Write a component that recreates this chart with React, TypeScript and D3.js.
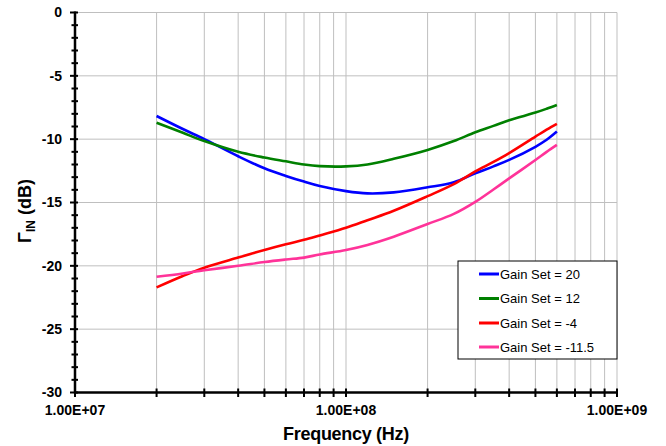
import React from "react";
import * as d3 from "d3";

const freqs = [2e7, 2.5e7, 3e7, 4e7, 5e7, 6e7, 7e7, 8e7, 1e8, 1.2e8, 1.5e8, 2e8, 2.5e8, 3e8, 3.5e8, 4e8, 5e8, 5.5e8, 6e8];
const gain20 = [-8.17, -9.2, -10.0, -11.35, -12.3, -12.9, -13.35, -13.7, -14.1, -14.28, -14.2, -13.8, -13.4, -12.7, -12.15, -11.64, -10.6, -10.05, -9.4];
const gain12 = [-8.7, -9.5, -10.15, -11.0, -11.45, -11.75, -12.0, -12.13, -12.15, -12.0, -11.55, -10.85, -10.15, -9.45, -8.95, -8.5, -7.9, -7.6, -7.3];
const gainM4 = [-21.7, -20.8, -20.15, -19.35, -18.75, -18.3, -17.95, -17.6, -17.0, -16.4, -15.65, -14.5, -13.55, -12.55, -11.8, -11.1, -9.8, -9.25, -8.79];
const gainM115 = [-20.86, -20.6, -20.35, -20.0, -19.7, -19.5, -19.35, -19.1, -18.75, -18.35, -17.7, -16.7, -15.9, -14.95, -13.97, -13.1, -11.64, -11.0, -10.45];

const seriesNames = ["Gain Set = 20", "Gain Set = 12", "Gain Set = -4", "Gain Set = -11.5"];
const seriesColors = ["#0000FF", "#008000", "#FF0000", "#FF3399"];
const seriesValues = [gain20, gain12, gainM4, gainM115];

const yTicks = [0, -5, -10, -15, -20, -25, -30];
const xMajor = [1e7, 1e8, 1e9];
const xTickLabels = ["1.00E+07", "1.00E+08", "1.00E+09"];

const FONT = "'Liberation Sans', Arial, Helvetica, sans-serif";

export default function App() {
  const left = 75, right = 617, top = 12.5, bottom = 392.5;
  const x = d3.scaleLog().domain([1e7, 1e9]).range([left, right]);
  const y = d3.scaleLinear().domain([-30, 0]).range([bottom, top]);

  const xMinor: number[] = [];
  for (const dec of [1e7, 1e8]) {
    for (let k = 1; k <= 10; k++) xMinor.push(dec * k);
  }
  const xAll = Array.from(new Set(xMinor));
  const yMinor = d3.range(-30, 1, 1);

  const line = d3
    .line<[number, number]>()
    .x((d) => x(d[0]))
    .y((d) => y(d[1]))
    .curve(d3.curveCatmullRom.alpha(0.5));

  const legX = 458, legY = 261, legW = 159, legH = 98;
  const rowY = [274, 298.5, 323, 347];

  return (
    <svg width={666} height={446} style={{ position: "absolute", left: 0, top: 0, background: "#fff" }} fontFamily={FONT}>
      {/* grid */}
      {yTicks.filter((t) => t !== -30).map((t) => (
        <line key={"hg" + t} x1={left} x2={right} y1={y(t)} y2={y(t)} stroke="#bfbfbf" strokeWidth={1} />
      ))}
      {xAll.filter((v) => v > 1e7).map((v) => (
        <line key={"vg" + v} x1={x(v)} x2={x(v)} y1={top} y2={bottom} stroke="#bfbfbf" strokeWidth={1} />
      ))}

      {/* series */}
      {seriesValues.map((vals, i) => (
        <path
          key={"s" + i}
          d={line(freqs.map((f, j) => [f, vals[j]] as [number, number])) || ""}
          fill="none"
          stroke={seriesColors[i]}
          strokeWidth={2.6}
        />
      ))}

      {/* y axis */}
      <line x1={left} x2={left} y1={top - 1} y2={bottom + 1} stroke="#000" strokeWidth={2.5} />
      {yMinor.map((t) => (
        <line key={"ym" + t} x1={left - (t % 5 === 0 ? 5 : 3.5)} x2={left + 3} y1={y(t)} y2={y(t)} stroke="#000" strokeWidth={2} />
      ))}
      {yTicks.map((t) => (
        <text key={"yl" + t} x={62} y={y(t)} dy="0.35em" textAnchor="end" fontSize={14} fontWeight="bold">
          {t}
        </text>
      ))}

      {/* x axis */}
      <line x1={left - 1} x2={right + 1} y1={bottom} y2={bottom} stroke="#000" strokeWidth={2.5} />
      {xAll.map((v) => (
        <line key={"xt" + v} x1={x(v)} x2={x(v)} y1={bottom - 4} y2={bottom + 4.5} stroke="#000" strokeWidth={2} />
      ))}
      {xMajor.map((v, i) => (
        <text key={"xl" + v} x={x(v)} y={415} textAnchor="middle" fontSize={14} fontWeight="bold">
          {xTickLabels[i]}
        </text>
      ))}

      {/* axis titles */}
      <text x={(left + right) / 2} y={440} textAnchor="middle" fontSize={18} fontWeight="bold" letterSpacing={-0.3}>
        Frequency (Hz)
      </text>
      <text transform={`translate(31, 211) rotate(-90)`} textAnchor="middle" fontSize={18} fontWeight="bold">
        Γ<tspan fontSize={12} dy={4}>IN</tspan>
        <tspan dy={-4}> (dB)</tspan>
      </text>

      {/* legend */}
      <rect x={legX} y={legY} width={legW} height={legH} fill="#fff" stroke="#000" strokeWidth={1} />
      {seriesNames.map((n, i) => (
        <g key={"lg" + i}>
          <line x1={479} x2={499} y1={rowY[i]} y2={rowY[i]} stroke={seriesColors[i]} strokeWidth={3} />
          <text x={500} y={rowY[i]} dy="0.35em" fontSize={13}>
            {n}
          </text>
        </g>
      ))}
    </svg>
  );
}
